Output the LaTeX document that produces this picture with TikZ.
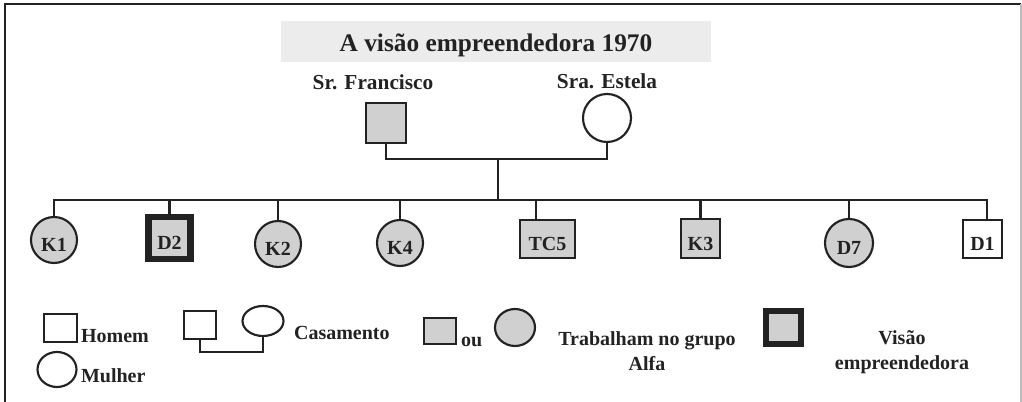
\documentclass[tikz,border=0pt]{standalone}
\usepackage{fontspec}
\setmainfont{Liberation Serif}
\usetikzlibrary{positioning}
\usetikzlibrary{shapes}

\definecolor{ink}{HTML}{222222}
\definecolor{fillgray}{HTML}{D0D0D0}
\definecolor{titlegray}{HTML}{ECECEC}
\definecolor{framegray}{HTML}{BBBBBB}

\newcommand\lblfont{\fontsize{15}{18.5}\selectfont\bfseries}
\newcommand\namefont{\fontsize{16}{19}\selectfont\bfseries}
\newcommand\titlefont{\fontsize{19}{22}\selectfont\bfseries}

\begin{document}
\begin{tikzpicture}[x=0.75pt, y=-0.75pt, color=ink, line width=1.6pt,
  man/.style={draw, rectangle, inner sep=0pt, font=\lblfont, text height=18pt, text depth=0pt},
  woman/.style={draw, circle, inner sep=0pt, font=\lblfont, text height=18pt, text depth=0pt},
  ell/.style={draw, ellipse, inner sep=0pt},
  txt/.style={inner sep=0pt, font=\lblfont}]

\useasboundingbox (0,0) rectangle (1022,402);

% moldura
\draw[line width=1.2pt] (5,402) -- (5,4) -- (1021,4);
\draw[framegray, line width=0.9pt] (1021,4) -- (1021,402);

\node[fill=titlegray, minimum width=322.5pt, minimum height=30.75pt, font=\titlefont,
  text height=15.75pt, text depth=0pt] (title) at (496,41.5) {A visão empreendedora 1970};

\node[anchor=base, font=\namefont, inner sep=0pt] (fratxt) at (373,90) {Sr. Francisco};
\node[anchor=base, font=\namefont, inner sep=0pt] (esttxt) at (607,89) {Sra. Estela};

\node[man, fill=fillgray, minimum size=30pt] (fra) at (386,123) {};
\node[woman, minimum size=36pt] (est) at (607,118) {};

\coordinate (cpl) at (498,159);
\coordinate (sib) at (498,200);

% filhos
\node[woman, fill=fillgray, minimum size=34.5pt] (K1) at (54,240) {K1};
\node[man, fill=fillgray, line width=4.9pt, minimum size=31.5pt] (D2) at (169.5,238) {D2};
\node[woman, fill=fillgray, minimum size=34.5pt] (K2) at (278,244) {K2};
\node[woman, fill=fillgray, minimum size=34.5pt] (K4) at (400,243) {K4};
\node[man, fill=fillgray, minimum width=41.25pt, minimum height=28.5pt] (TC5) at (547.5,239) {TC5};
\node[man, fill=fillgray, minimum size=29.25pt] (K3) at (700.5,238.5) {K3};
\node[woman, fill=fillgray, minimum size=36pt] (D7) at (849,243) {D7};
\node[man, fill=white, minimum width=29.25pt, minimum height=28.5pt] (D1) at (982.5,239) {D1};

\coordinate (tctop) at ([xshift=-8.6pt]TC5.north);
\coordinate (d1top) at ([xshift=3.4pt]D1.north);

\draw (fra.south) |- (cpl) -| (est.south);
\draw (cpl) -- (sib);
\draw (K1.north) |- (sib) -| (d1top);
\foreach \k in {D2,K2,K4,K3,D7}
  \draw (\k.north) -- (\k.north |- sib);
\draw (tctop) -- (tctop |- sib);

% legenda
\node[man, minimum width=24.75pt, minimum height=21pt] (hom) at (60.5,328) {};
\node[txt, anchor=base west] (homtxt) at (80,343) {Homem};
\node[ell, minimum width=29.25pt, minimum height=26.25pt] (mul) at (57,369.5) {};
\node[txt, anchor=base west] (multxt) at (80,383) {Mulher};

\node[man, minimum width=24pt, minimum height=21pt] (cm) at (200,325) {};
\node[ell, minimum width=30.75pt, minimum height=22.5pt] (cw) at (263,321) {};
\coordinate (cas) at (230,352);
\draw (cm.south) |- (cas) -| (cw.south);
\node[txt, anchor=base west] (castxt) at (293,340) {Casamento};

\node[man, fill=fillgray, minimum width=24pt, minimum height=19.5pt] (gsq) at (440,331) {};
\node[txt, anchor=base west] (outxt) at (460,347) {ou};
\node[ell, fill=fillgray, minimum width=30pt, minimum height=27.75pt] (gci) at (515,327.5) {};
\node[txt, align=center] (alfatxt) at (647,351) {Trabalham no grupo\\Alfa};

\node[man, fill=fillgray, line width=4.5pt, minimum width=26.25pt, minimum height=24.75pt] (vis) at (783.5,327.5) {};
\node[txt, align=center] (vistxt) at (902,352) {Visão\\empreendedora};

\end{tikzpicture}
\end{document}
